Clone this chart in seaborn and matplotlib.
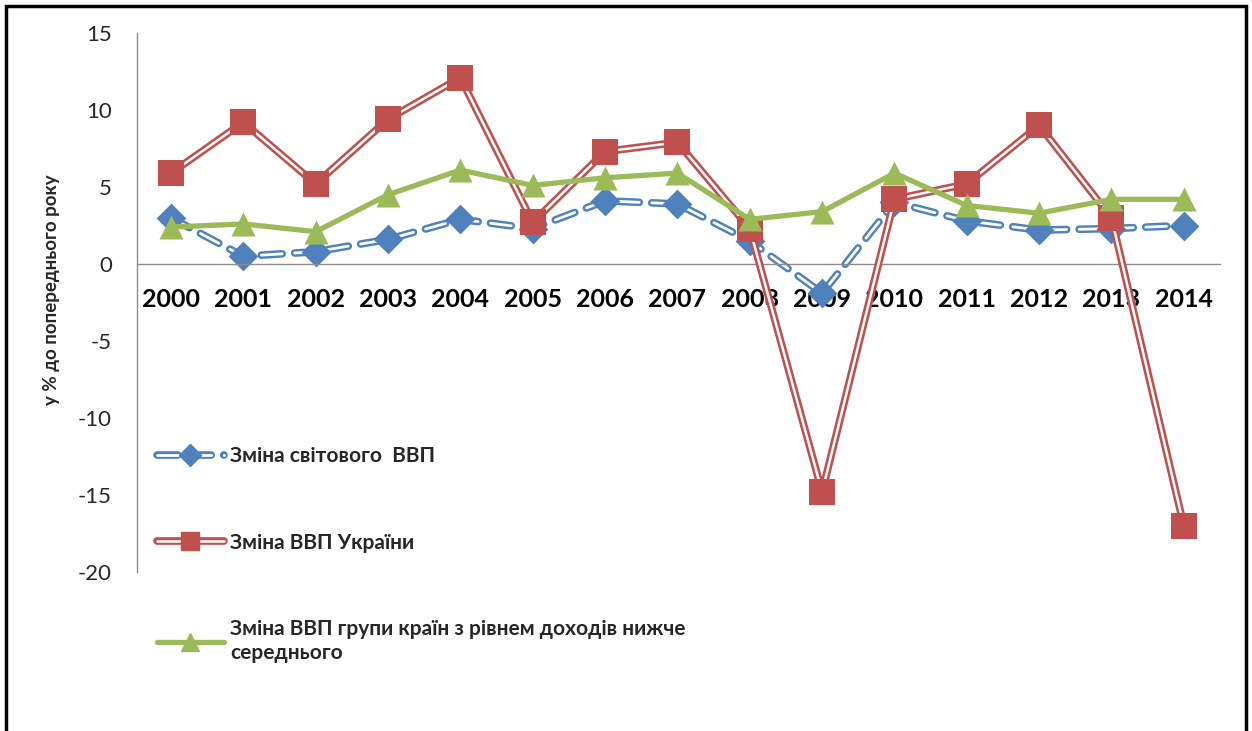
import numpy as np
import pandas as pd
import matplotlib.pyplot as plt
import seaborn as sns
from matplotlib.lines import Line2D
from matplotlib.legend_handler import HandlerTuple

years = ["2000", "2001", "2002", "2003", "2004", "2005", "2006", "2007",
         "2008", "2009", "2010", "2011", "2012", "2013", "2014"]
world_gdp = [3.0, 0.5, 0.8, 1.6, 2.9, 2.3, 4.1, 3.9, 1.5, -1.9, 4.0, 2.8, 2.2, 2.3, 2.5]
ukraine_gdp = [5.9, 9.2, 5.2, 9.4, 12.1, 2.7, 7.3, 7.9, 2.3, -14.8, 4.2, 5.2, 9.0, 3.0, -17.0]
lower_middle_gdp = [2.4, 2.6, 2.1, 4.5, 6.1, 5.1, 5.6, 5.9, 2.9, 3.4, 5.9, 3.8, 3.3, 4.2, 4.2]

labels = [
    "Зміна світового  ВВП",
    "Зміна ВВП України",
    "Зміна ВВП групи країн з рівнем доходів нижче\nсереднього",
]
y_label = "у % до попереднього року"

BLUE = "#4F81BD"
RED = "#C0504D"
GREEN = "#9BBB59"
AXIS_GREY = "#8C8C8C"

sns.set_style("white")
plt.rcParams["font.family"] = ["Lato", "DejaVu Sans"]
plt.rcParams["lines.scale_dashes"] = False
plt.rcParams["axes.unicode_minus"] = False

df = pd.DataFrame({
    "pos": np.arange(len(years)),
    "world": world_gdp,
    "ukraine": ukraine_gdp,
    "lower_middle": lower_middle_gdp,
})

fig = plt.figure(figsize=(12.52, 7.31), dpi=100)
ax = fig.add_axes([137 / 1252, 1 - 572 / 731, (1220 - 137) / 1252, (572 - 33) / 731])

dash = (0, (15, 9))

# world GDP: outlined dashed line
sns.lineplot(data=df, x="pos", y="world", ax=ax, color=BLUE, lw=5.5,
             linestyle=dash, dash_capstyle="round", errorbar=None, zorder=2)
sns.lineplot(data=df, x="pos", y="world", ax=ax, color="white", lw=2.0,
             linestyle=dash, dash_capstyle="round", errorbar=None, zorder=2.1)
sns.scatterplot(data=df, x="pos", y="world", ax=ax, color=BLUE, marker="D",
                s=230, linewidth=0, zorder=2.2)

# Ukraine GDP: double red line
sns.lineplot(data=df, x="pos", y="ukraine", ax=ax, color=RED, lw=5.5,
             errorbar=None, zorder=3)
sns.lineplot(data=df, x="pos", y="ukraine", ax=ax, color="white", lw=1.8,
             errorbar=None, zorder=3.1)
sns.scatterplot(data=df, x="pos", y="ukraine", ax=ax, color=RED, marker="s",
                s=330, linewidth=0, zorder=3.2)

# lower-middle income group
sns.lineplot(data=df, x="pos", y="lower_middle", ax=ax, color=GREEN, lw=3.8,
             errorbar=None, zorder=4)
sns.scatterplot(data=df, x="pos", y="lower_middle", ax=ax, color=GREEN, marker="^",
                s=300, linewidth=0, zorder=4.2)

for side in ["top", "right"]:
    ax.spines[side].set_visible(False)
ax.spines["bottom"].set_position(("data", 0))
for side in ["left", "bottom"]:
    ax.spines[side].set_color(AXIS_GREY)
    ax.spines[side].set_linewidth(1.0)

ax.set_xlim(-0.47, len(years) - 0.5)
ax.set_ylim(-20, 15)
ax.set_yticks(np.arange(-20, 16, 5))
ax.set_xticks(df["pos"])
ax.set_xticklabels(years, fontsize=18, fontweight="bold")
ax.tick_params(axis="x", length=0, pad=17, colors="black")
ax.tick_params(axis="y", length=0, pad=18, labelsize=16, colors="#262626")

ax.set_xlabel("")
ax.set_ylabel(y_label, fontsize=13.5, fontweight="bold")
ax.yaxis.set_label_coords(-0.071, 0.523)

handles = [
    (Line2D([], [], color=BLUE, lw=5.5, linestyle=dash, dash_capstyle="round"),
     Line2D([], [], color="white", lw=2.0, linestyle=dash, dash_capstyle="round"),
     Line2D([], [], color=BLUE, marker="D", markersize=11, linestyle="none")),
    (Line2D([], [], color=RED, lw=5.5),
     Line2D([], [], color="white", lw=1.8),
     Line2D([], [], color=RED, marker="s", markersize=13, linestyle="none")),
    (Line2D([], [], color=GREEN, lw=3.8),
     Line2D([], [], color=GREEN, marker="^", markersize=13, linestyle="none")),
]
leg = ax.legend(handles, labels, handler_map={tuple: HandlerTuple(ndivide=1, pad=0)},
                loc="upper left", bbox_to_anchor=(157 / 1252, 1 - 446 / 731),
                bbox_transform=fig.transFigure, frameon=False, borderpad=0,
                borderaxespad=0, handlelength=3.2, handletextpad=0.3,
                labelspacing=3.2, prop={"size": 15, "weight": "bold"})

fig.patches.append(plt.Rectangle((6 / 1252, -0.05), (1246 - 6) / 1252, 1.05 - 6 / 731,
                                 transform=fig.transFigure, fill=False,
                                 edgecolor="black", lw=2.5))

fig.savefig("out.png", dpi=100)
